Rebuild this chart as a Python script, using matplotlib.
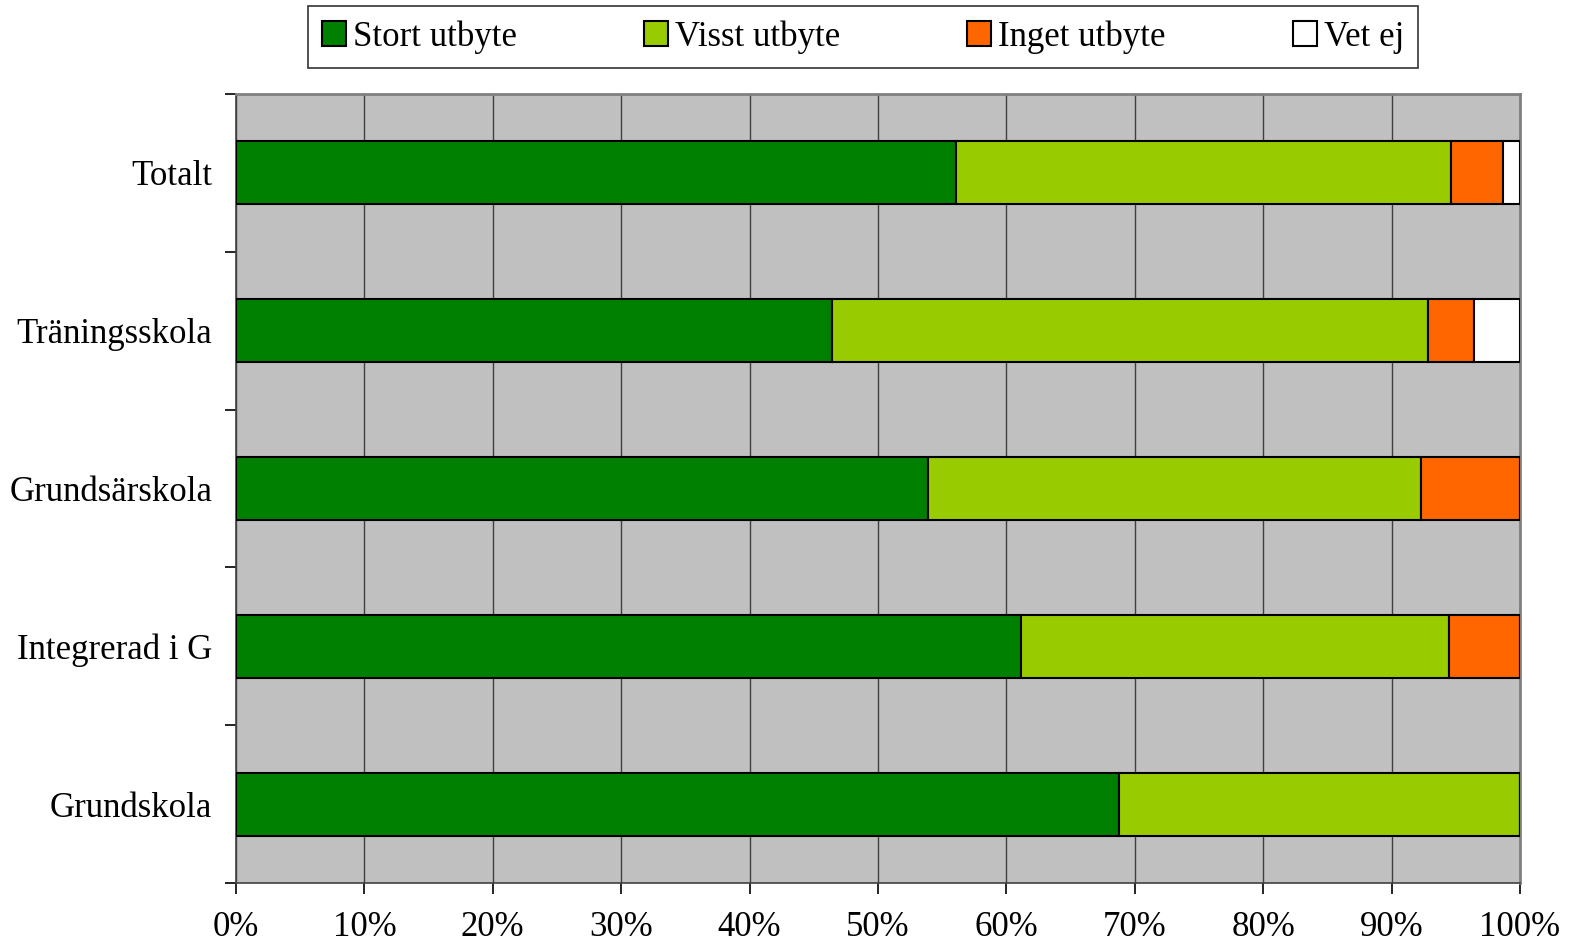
import matplotlib.pyplot as plt
import numpy as np

plt.rcParams['font.family'] = ['Liberation Serif', 'DejaVu Serif']

categories = ["Grundskola", "Integrerad i G", "Grundsärskola", "Träningsskola", "Totalt"]
series_names = ["Stort utbyte", "Visst utbyte", "Inget utbyte", "Vet ej"]
stort = [68.8, 61.1, 53.9, 46.4, 56.1]
visst = [31.2, 33.4, 38.4, 46.4, 38.5]
inget = [0.0, 5.5, 7.7, 3.6, 4.1]
vet_ej = [0.0, 0.0, 0.0, 3.6, 1.3]
colors = ["#008000", "#99CC00", "#FF6600", "#FFFFFF"]
xticks = [0, 10, 20, 30, 40, 50, 60, 70, 80, 90, 100]

fig = plt.figure(figsize=(15.71, 9.43), dpi=100)
ax = fig.add_axes([236/1571, 1 - 883/943, (1520-236)/1571, (883-94)/943])
ax.set_facecolor("#C0C0C0")

y = np.arange(len(categories))
left = np.zeros(len(categories))
for vals, name, c in zip([stort, visst, inget, vet_ej], series_names, colors):
    ax.barh(y, vals, left=left, height=0.4, color=c, edgecolor="black",
            linewidth=1.5, label=name, zorder=3)
    left += np.array(vals)

ax.set_xlim(0, 100)
ax.set_ylim(-0.5, len(categories) - 0.5)
ax.set_xticks(xticks)
ax.set_xticklabels([f"{t}%" for t in xticks], fontsize=25)
ax.set_yticks(y)
ax.set_yticklabels(categories, fontsize=25)
ax.set_yticks(np.arange(-0.5, len(categories), 1), minor=True)
ax.tick_params(axis='y', which='major', length=0, pad=17)
ax.tick_params(axis='y', which='minor', length=8, width=1.2, direction='out')
ax.tick_params(axis='x', length=8, width=1.2, direction='out', pad=12)
ax.grid(axis='x', color="#404040", linewidth=1, zorder=0)
ax.set_axisbelow(True)

for s in ['top', 'right']:
    ax.spines[s].set_color("#808080")
    ax.spines[s].set_linewidth(2)
for s in ['left', 'bottom']:
    ax.spines[s].set_color("#404040")
    ax.spines[s].set_linewidth(1.2)

leg = fig.legend(loc='center', bbox_to_anchor=(863/1571, 1 - 37/943), ncol=4,
                 fontsize=25, frameon=True, fancybox=False, edgecolor="black",
                 handlelength=0.7, handleheight=0.7, handletextpad=0.2,
                 columnspacing=3.65, borderpad=0.4, borderaxespad=0)
leg.get_frame().set_linewidth(1.2)

fig.savefig("out.png", dpi=100)
